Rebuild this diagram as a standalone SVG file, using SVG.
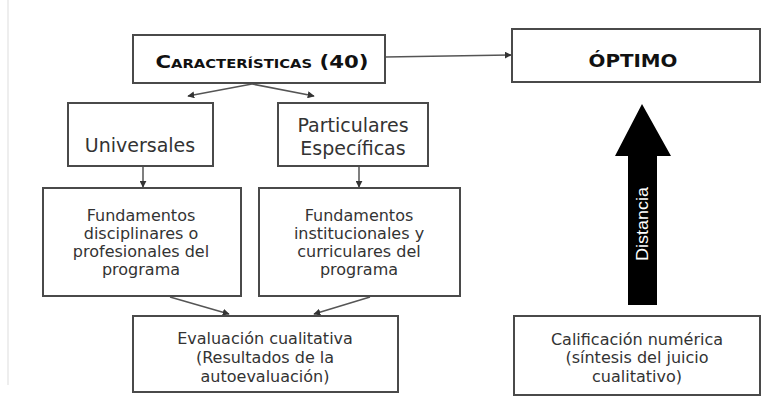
<svg xmlns="http://www.w3.org/2000/svg" width="775" height="402" viewBox="0 0 775 402">
<defs>
<marker id="ah" viewBox="0 0 10 10" refX="9" refY="5" markerWidth="7" markerHeight="7" markerUnits="userSpaceOnUse" orient="auto">
<path d="M0,0 L10,5 L0,10 z" fill="#333"/>
</marker>
</defs>
<style>
.box{fill:#fff;stroke:#4a4a4a;stroke-width:2}
.t{font-family:"DejaVu Sans",Verdana,sans-serif;fill:#333;text-anchor:middle}
.b{font-family:"DejaVu Sans",Verdana,sans-serif;font-weight:bold;fill:#111;text-anchor:middle}
.c{stroke:#555;stroke-width:1.5;fill:none;marker-end:url(#ah)}
</style>
<rect width="775" height="402" fill="#fff"/>
<line x1="8" y1="0" x2="8" y2="385" stroke="#ddd" stroke-width="1"/>
<g id="connectors">
<line class="c" x1="385" y1="57" x2="511" y2="55"/>
<line class="c" x1="252" y1="84" x2="188" y2="96"/>
<line class="c" x1="252" y1="84" x2="314" y2="96"/>
<line class="c" x1="143" y1="167" x2="143" y2="187"/>
<line class="c" x1="359" y1="167" x2="359" y2="187"/>
<line class="c" x1="170" y1="297" x2="229" y2="314"/>
<line class="c" x1="370" y1="297" x2="314" y2="314"/>
</g>
<g id="caracteristicas">
<rect class="box" x="133" y="35" width="252" height="48"/>
<text class="b" x="262" y="68" textLength="213" lengthAdjust="spacingAndGlyphs"><tspan font-size="18">C</tspan><tspan font-size="12.5">ARACTERÍSTICAS</tspan><tspan font-size="18"> (40)</tspan></text>
</g>
<g id="optimo">
<rect class="box" x="512" y="29" width="248" height="53"/>
<text class="b" x="633" y="67" font-size="17" textLength="89" lengthAdjust="spacingAndGlyphs">ÓPTIMO</text>
</g>
<g id="universales">
<rect class="box" x="68" y="103" width="145" height="63"/>
<text class="t" x="140" y="152" font-size="19">Universales</text>
</g>
<g id="particulares">
<rect class="box" x="278" y="103" width="150" height="63"/>
<text class="t" x="353" y="132" font-size="19">Particulares</text>
<text class="t" x="353" y="155" font-size="19">Específicas</text>
</g>
<g id="fund-disciplinares">
<rect class="box" x="43" y="188" width="198" height="108"/>
<text class="t" x="141" y="221" font-size="16">Fundamentos</text>
<text class="t" x="141" y="239" font-size="16">disciplinares o</text>
<text class="t" x="141" y="257" font-size="16">profesionales del</text>
<text class="t" x="141" y="275" font-size="16">programa</text>
</g>
<g id="fund-institucionales">
<rect class="box" x="259" y="188" width="201" height="108"/>
<text class="t" x="359" y="221" font-size="16">Fundamentos</text>
<text class="t" x="359" y="239" font-size="16">institucionales y</text>
<text class="t" x="359" y="257" font-size="16">curriculares del</text>
<text class="t" x="359" y="275" font-size="16">programa</text>
</g>
<g id="evaluacion">
<rect class="box" x="133" y="316" width="265" height="76"/>
<text class="t" x="265" y="344" font-size="16">Evaluación cualitativa</text>
<text class="t" x="265" y="363" font-size="16">(Resultados de la</text>
<text class="t" x="265" y="382" font-size="16">autoevaluación)</text>
</g>
<g id="distancia">
<polygon points="642,104 671,156 657,156 657,305 628,305 628,156 615,156" fill="#000"/>
<text x="0" y="0" transform="translate(648,224) rotate(-90)" font-family="'Liberation Sans Narrow','Liberation Sans',Arial,sans-serif" font-size="17" fill="#fff" text-anchor="middle" textLength="74" lengthAdjust="spacingAndGlyphs">Distancia</text>
</g>
<g id="calificacion">
<rect class="box" x="514" y="316" width="246" height="79"/>
<text class="t" x="637" y="345" font-size="16">Calificación numérica</text>
<text class="t" x="637" y="363" font-size="16">(síntesis del juicio</text>
<text class="t" x="637" y="382" font-size="16">cualitativo)</text>
</g>
</svg>
